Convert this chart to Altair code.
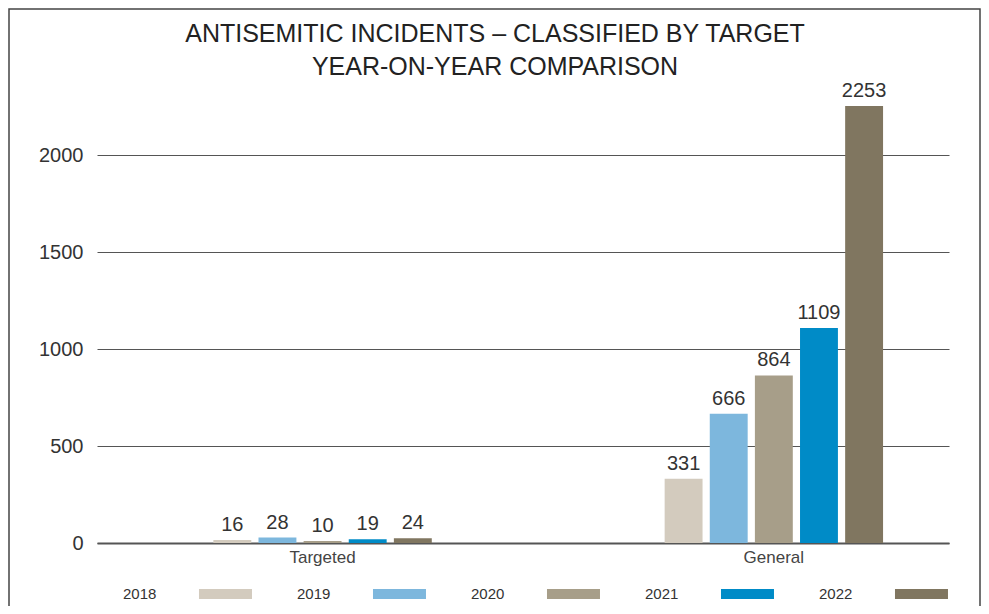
import altair as alt
import pandas as pd

# ---- data ----
categories = ["Targeted", "General"]
years = ["2018", "2019", "2020", "2021", "2022"]
targeted = [16, 28, 10, 19, 24]
general = [331, 666, 864, 1109, 2253]
colors = ["#d3cbbe", "#7db7dd", "#a79e89", "#008bc7", "#807660"]
y_ticks = [0, 500, 1000, 1500, 2000]
title_lines = ["ANTISEMITIC INCIDENTS \u2013 CLASSIFIED BY TARGET", "YEAR-ON-YEAR COMPARISON"]

rows = []
for cat, vals in zip(categories, [targeted, general]):
    for yr, v in zip(years, vals):
        rows.append({"category": cat, "year": yr, "value": v})
df = pd.DataFrame(rows)
legend_df = pd.DataFrame({"year": years})

FONT = "Liberation Sans"
W, H = 852, 446

color = alt.Color("year:N", sort=years,
                  scale=alt.Scale(domain=years, range=colors), legend=None)

x_enc = alt.X("category:N", sort=categories,
              scale=alt.Scale(domain=categories, paddingInner=0.5, paddingOuter=0.194, align=0.644),
              axis=alt.Axis(title=None, labelAngle=0, labelFontSize=17, labelColor="#444",
                            labelPadding=6, ticks=False, domainColor="#555", domainWidth=2,
                            grid=False, labelFont=FONT))
xoff = alt.XOffset("year:N", sort=years,
                   scale=alt.Scale(domain=years, paddingInner=0.16, paddingOuter=0.08))
y_enc = alt.Y("value:Q", scale=alt.Scale(domain=[0, 2300], nice=False),
              axis=alt.Axis(title=None, values=y_ticks, format="d", grid=True, gridColor="#555",
                            gridWidth=1, domain=False, ticks=False, labelFontSize=20,
                            labelColor="#333", labelPadding=14, labelFont=FONT))

base = alt.Chart(df).encode(x=x_enc, xOffset=xoff, y=y_enc)
bars = base.mark_bar().encode(color=color)
value_labels = base.mark_text(
    fontSize=20, color="#333", baseline="alphabetic", dy=-9, font=FONT
).encode(text="value:Q")

main = alt.layer(bars, value_labels)

leg_scale = alt.Scale(type="band", domain=years, range=[26, 896], paddingInner=0, paddingOuter=0)
leg_text = alt.Chart(legend_df).mark_text(
    align="left", baseline="middle", fontSize=15, color="#333", font=FONT
).encode(
    x=alt.X("year:N", sort=years, scale=leg_scale, axis=None, bandPosition=0),
    y=alt.value(497),
    text="year:N",
)
leg_swatch = alt.Chart(legend_df).mark_point(
    shape="M-1,-0.1887L1,-0.1887L1,0.1887L-1,0.1887Z", size=2809,
    filled=True, opacity=1, strokeWidth=0
).encode(
    x=alt.X("year:N", sort=years, scale=leg_scale, axis=None, bandPosition=0.589),
    y=alt.value(497),
    color=color,
)
legend = alt.layer(leg_text, leg_swatch)

frame = alt.Chart(alt.Data(values=[{"a": 1}])).mark_rect(
    fillOpacity=0, stroke="#444", strokeWidth=1.5
).encode(
    x=alt.value(-88), x2=alt.value(883), y=alt.value(-88), y2=alt.value(540)
)

chart = alt.layer(main, legend, frame).resolve_scale(x="independent").properties(
    width=W,
    height=H,
    padding={"left": 89, "top": 89, "right": 32, "bottom": 63},
    autosize=alt.AutoSizeParams(type="none"),
    title=alt.TitleParams(
        text=title_lines, fontSize=25, font=FONT, fontWeight="normal", color="#222",
        anchor="middle", frame="group", dx=-28, offset=-97, lineHeight=33,
        baseline="bottom",
    ),
).configure(font=FONT).configure_view(stroke=None)

chart.save("out.html", embed_options={"renderer": "svg", "actions": False})
